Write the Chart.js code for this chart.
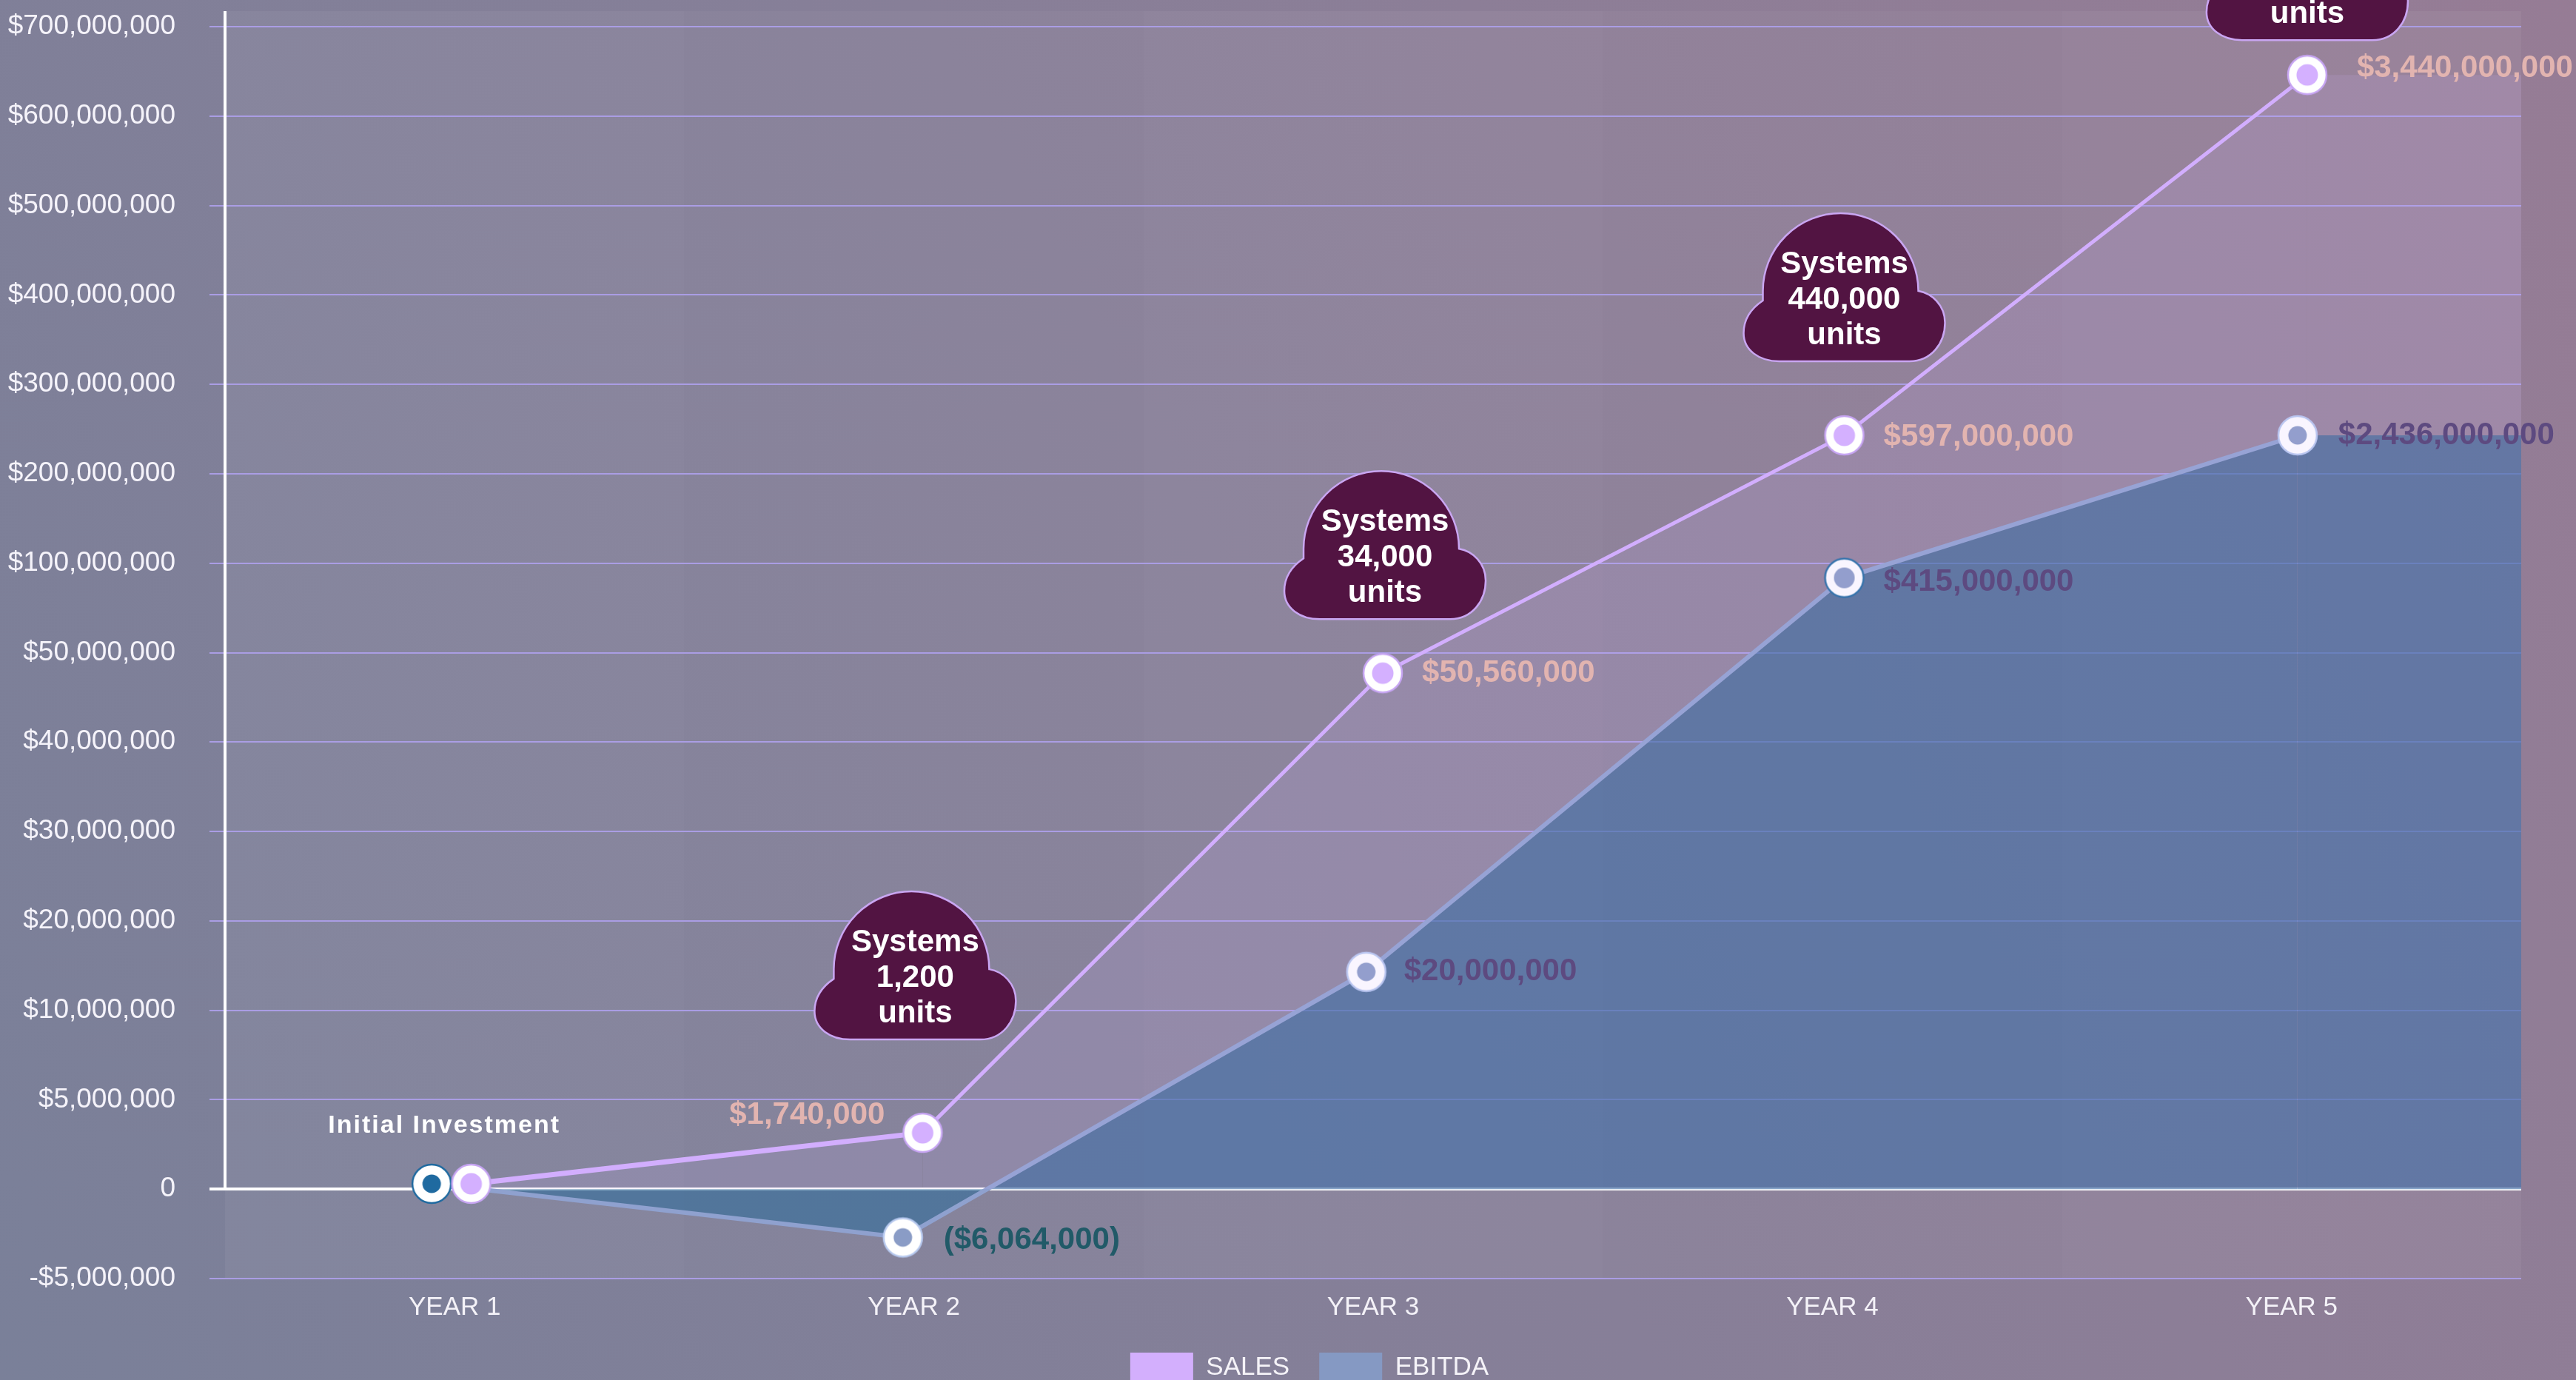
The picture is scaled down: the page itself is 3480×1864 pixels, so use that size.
<!DOCTYPE html>
<html>
<head>
<meta charset="utf-8">
<script src="https://cdn.jsdelivr.net/npm/chart.js@4.4.1/dist/chart.umd.min.js"></script>
<style>
html,body{margin:0;padding:0;overflow:hidden;width:3480px;height:1864px;background:#85809a;}
canvas{display:block;}
</style>
</head>
<body>
<canvas id="c" width="3480" height="1877" style="width:3480px;height:1877px"></canvas>
<script>
// ---------------- DATA ----------------
const categories = ['YEAR 1', 'YEAR 2', 'YEAR 3', 'YEAR 4', 'YEAR 5'];
const yTickValues = [-5e6, 0, 5e6, 10e6, 20e6, 30e6, 40e6, 50e6, 100e6, 200e6, 300e6, 400e6, 500e6, 600e6, 700e6];
const yTickLabels = ['-$5,000,000', '0', '$5,000,000', '$10,000,000', '$20,000,000', '$30,000,000', '$40,000,000',
  '$50,000,000', '$100,000,000', '$200,000,000', '$300,000,000', '$400,000,000', '$500,000,000', '$600,000,000', '$700,000,000'];
const salesValues  = [0.3e6, 3.15e6, 47.7e6, 243e6, 646e6];
const ebitdaValues = [0.3e6, -2.7e6, 14.3e6, 91.8e6, 243e6];
const salesLabels  = ['', '$1,740,000', '$50,560,000', '$597,000,000', '$3,440,000,000'];
const ebitdaLabels = ['', '($6,064,000)', '$20,000,000', '$415,000,000', '$2,436,000,000'];
const unitsShipped = ['', '1,200', '34,000', '440,000', ''];
const firstYearNote = 'Initial Investment';

// ---------------- STYLE / LAYOUT ----------------
const FONT = '"Liberation Sans", Arial, Helvetica, sans-serif';
const salesNudge  = [0.036, 0.019, 0.021, 0.026, 0.034];
const ebitdaNudge = [-0.05, -0.024, -0.015, 0.026, 0.013];
const salesLabelOffset  = [[0, 0], [-51, -24], [53, 0], [53, 2], [67, -9]];
const salesLabelAlign   = ['left', 'right', 'left', 'left', 'left'];
const ebitdaLabelOffset = [[0, 0], [55, 4], [51, 0], [53, 6], [55, 0]];
const ebitdaLabelColor  = ['#5d4a80', '#215a68', '#5d4a80', '#5d4a80', '#5d4a80'];
const cloudDx   = [0, -10, 3, 0, 0];
const cloudLift = [0, 126, 73, 100, 47];

// piecewise mapping of a dollar value onto the evenly spaced tick ladder
function toAxis(v) {
  const n = yTickValues.length;
  for (let i = 0; i < n - 1; i++) {
    const a = yTickValues[i], b = yTickValues[i + 1];
    if (v <= b || i === n - 2) return i + (v - a) / (b - a);
  }
}
const zeroIdx = yTickValues.indexOf(0);
const xMax = categories.length + 0.5;

function series(values, nudge) {
  const pts = values.map((v, i) => ({ x: i + 1 + nudge[i], y: toAxis(v) }));
  pts.push({ x: xMax, y: toAxis(values[values.length - 1]) }); // area carried to the plot edge
  return pts;
}

function marker(inner, outline, innerR) {
  const c = document.createElement('canvas');
  c.width = c.height = 60;
  const g = c.getContext('2d');
  g.beginPath(); g.arc(30, 30, 26, 0, Math.PI * 2);
  g.fillStyle = '#ffffff'; g.fill();
  g.lineWidth = 2.5; g.strokeStyle = outline; g.stroke();
  g.beginPath(); g.arc(30, 30, innerR, 0, Math.PI * 2);
  g.fillStyle = inner; g.fill();
  return c;
}
const mSales = marker('#d4b0ff', '#c6a4f2', 14.5);
const mEbDark = marker('#1f6aa0', '#1f6aa0', 12.5);
const mEb = marker('#8a9cc6', '#b6c8ee', 12.5);
const mEbRim = marker('#8a9cc6', '#1f6aa0', 14);
const salesMarkers = [mSales, mSales, mSales, mSales, mSales, mSales];
const ebitdaMarkers = [mEbDark, mEb, mEb, mEbRim, mEb, mEb];
const radii = categories.map(() => 26).concat([0]);
const lastSeg = categories.length; // index of the edge extension point

// ---------------- PLUGINS ----------------
const backdrop = {
  id: 'backdrop',
  beforeDraw(chart) {
    const { ctx, width, height, chartArea: ca, scales } = chart;
    ctx.save();
    const g = ctx.createLinearGradient(0, height, width, 0);
    g.addColorStop(0, '#7a8099');
    g.addColorStop(0.5, '#877f98');
    g.addColorStop(1, '#967c95');
    ctx.fillStyle = g;
    ctx.fillRect(0, 0, width, height);
    ctx.fillStyle = 'rgba(255,255,255,0.035)';
    ctx.fillRect(ca.left, ca.top, ca.right - ca.left, ca.bottom - ca.top);
    categories.forEach((c, i) => {
      if (i % 2 === 1) return;
      const x0 = scales.x.getPixelForValue(i + 0.5), x1 = scales.x.getPixelForValue(i + 1.5);
      ctx.fillStyle = 'rgba(255,255,255,0.025)';
      ctx.fillRect(x0, ca.top, x1 - x0, ca.bottom - ca.top);
    });
    ctx.restore();
  }
};

const axisLine = {
  id: 'axisLine',
  beforeDatasetsDraw(chart) {
    const { ctx, chartArea: ca, scales } = chart;
    ctx.save();
    ctx.strokeStyle = '#ffffff';
    ctx.lineWidth = 4;
    ctx.beginPath();
    ctx.moveTo(ca.left, ca.top);
    ctx.lineTo(ca.left, scales.y.getPixelForValue(zeroIdx));
    ctx.stroke();
    ctx.restore();
  }
};

function cloudPath(ctx, cx, by) {
  ctx.beginPath();
  ctx.moveTo(cx - 88, by);
  ctx.lineTo(cx + 88, by);
  ctx.bezierCurveTo(cx + 118, by, cx + 136, by - 25, cx + 136, by - 52);
  ctx.bezierCurveTo(cx + 136, by - 76, cx + 118, by - 92, cx + 100, by - 95);
  ctx.arc(cx - 5, by - 95, 105, 0, Math.PI, true);
  ctx.lineTo(cx - 110, by - 82);
  ctx.bezierCurveTo(cx - 128, by - 70, cx - 136, by - 55, cx - 136, by - 38);
  ctx.bezierCurveTo(cx - 136, by - 15, cx - 115, by, cx - 88, by);
  ctx.closePath();
}

const annotations = {
  id: 'annotations',
  afterDatasetsDraw(chart) {
    const { ctx, scales } = chart;
    const ms = chart.getDatasetMeta(0).data;
    const me = chart.getDatasetMeta(1).data;
    ctx.save();
    ctx.textBaseline = 'middle';
    ctx.font = 'bold 42px ' + FONT;
    for (let i = 0; i < categories.length; i++) {
      if (salesLabels[i]) {
        ctx.fillStyle = '#e2b4b0';
        ctx.textAlign = salesLabelAlign[i];
        ctx.fillText(salesLabels[i], ms[i].x + salesLabelOffset[i][0], ms[i].y + salesLabelOffset[i][1]);
      }
      if (ebitdaLabels[i]) {
        ctx.fillStyle = ebitdaLabelColor[i];
        ctx.textAlign = 'left';
        ctx.fillText(ebitdaLabels[i], me[i].x + ebitdaLabelOffset[i][0], me[i].y + ebitdaLabelOffset[i][1]);
      }
    }
    ctx.font = 'bold 34px ' + FONT;
    ctx.fillStyle = '#ffffff';
    ctx.textAlign = 'center';
    try { ctx.letterSpacing = '2px'; } catch (e) {}
    ctx.fillText(firstYearNote, scales.x.getPixelForValue(1) - 14, ms[0].y - 78);
    try { ctx.letterSpacing = '0px'; } catch (e) {}
    for (let i = 1; i < categories.length; i++) {
      const cx = ms[i].x + cloudDx[i];
      const by = ms[i].y - cloudLift[i];
      cloudPath(ctx, cx, by);
      ctx.fillStyle = '#521442';
      ctx.fill();
      ctx.lineWidth = 2.5;
      ctx.strokeStyle = '#c9a6f2';
      ctx.stroke();
      ctx.fillStyle = '#ffffff';
      ctx.font = 'bold 42px ' + FONT;
      ctx.textAlign = 'center';
      ctx.fillText('Systems', cx, by - 131);
      ctx.fillText(unitsShipped[i], cx, by - 83);
      ctx.fillText('units', cx, by - 35);
    }
    ctx.restore();
  }
};

const legendShift = {
  id: 'legendShift',
  afterLayout(chart) {
    chart.legend.left += 29;
    chart.legend.right += 29;
  }
};

// ---------------- CHART ----------------
new Chart(document.getElementById('c'), {
  type: 'line',
  data: {
    datasets: [
      {
        label: 'SALES',
        data: series(salesValues, salesNudge),
        borderColor: '#d2aefe',
        borderWidth: 5,
        backgroundColor: 'rgba(212,176,255,0.13)',
        fill: { target: { value: zeroIdx }, above: 'rgba(212,176,255,0.13)', below: 'rgba(0,0,0,0)' },
        pointStyle: salesMarkers,
        pointRadius: radii,
        tension: 0,
        segment: {
          borderColor: c => c.p1DataIndex === lastSeg ? 'rgba(0,0,0,0)' : undefined,
          borderWidth: c => c.p0DataIndex === 0 ? 7 : undefined
        }
      },
      {
        label: 'EBITDA',
        data: series(ebitdaValues, ebitdaNudge),
        borderColor: '#8fa1cf',
        borderWidth: 6,
        backgroundColor: 'rgba(38,99,148,0.6)',
        fill: { target: { value: zeroIdx }, above: 'rgba(38,99,148,0.6)', below: 'rgba(48,108,155,0.6)' },
        pointStyle: ebitdaMarkers,
        pointRadius: radii,
        tension: 0,
        segment: {
          borderColor: c => c.p1DataIndex === lastSeg ? 'rgba(0,0,0,0)' : undefined
        }
      }
    ]
  },
  options: {
    responsive: false,
    animation: false,
    devicePixelRatio: 1,
    layout: { autoPadding: false, padding: { left: 0, right: 0, top: 15, bottom: 0 } },
    plugins: {
      tooltip: { enabled: false },
      legend: {
        position: 'bottom',
        labels: {
          boxWidth: 85,
          boxHeight: 40,
          padding: 40,
          color: '#f5f3f8',
          font: { family: FONT, size: 35 },
          generateLabels: () => [
            { text: 'SALES', fillStyle: '#d3affd', strokeStyle: '#d3affd', lineWidth: 0, hidden: false, datasetIndex: 0, fontColor: '#f5f3f8' },
            { text: 'EBITDA', fillStyle: '#8599c3', strokeStyle: '#8599c3', lineWidth: 0, hidden: false, datasetIndex: 1, fontColor: '#f5f3f8' }
          ]
        }
      }
    },
    scales: {
      x: {
        type: 'linear',
        min: 0.5,
        max: xMax,
        afterBuildTicks: s => { s.ticks = categories.map((c, i) => ({ value: i + 1 })); },
        afterFit: s => { s.height = 60; s.paddingLeft = 0; s.paddingRight = 0; },
        ticks: {
          callback: v => categories[Math.round(v) - 1],
          color: '#f4f2f8',
          font: { family: FONT, size: 35 },
          padding: 18,
          maxRotation: 0,
          autoSkip: false
        },
        grid: { display: false, drawTicks: false },
        border: { display: false }
      },
      y: {
        type: 'linear',
        min: 0,
        max: yTickValues.length - 1 + 0.174,
        afterBuildTicks: s => { s.ticks = yTickValues.map((v, i) => ({ value: i })); },
        afterFit: s => { s.width = 304; s.paddingTop = 0; s.paddingBottom = 0; },
        ticks: {
          callback: v => yTickLabels[v],
          color: '#f5f3fa',
          font: { family: FONT, size: 37 },
          padding: 46,
          autoSkip: false
        },
        grid: {
          color: c => (c.tick && c.tick.value === zeroIdx) ? '#ffffff' : '#aa9de4',
          lineWidth: c => (c.tick && c.tick.value === zeroIdx) ? 4 : 2,
          tickLength: 21,
          drawTicks: true
        },
        border: { display: false }
      },
      yRight: {
        type: 'linear',
        position: 'right',
        afterFit: s => { s.width = 74; s.paddingTop = 0; s.paddingBottom = 0; },
        ticks: { display: false },
        grid: { display: false },
        border: { display: false }
      }
    }
  },
  plugins: [backdrop, axisLine, annotations, legendShift]
});
</script>
</body>
</html>
